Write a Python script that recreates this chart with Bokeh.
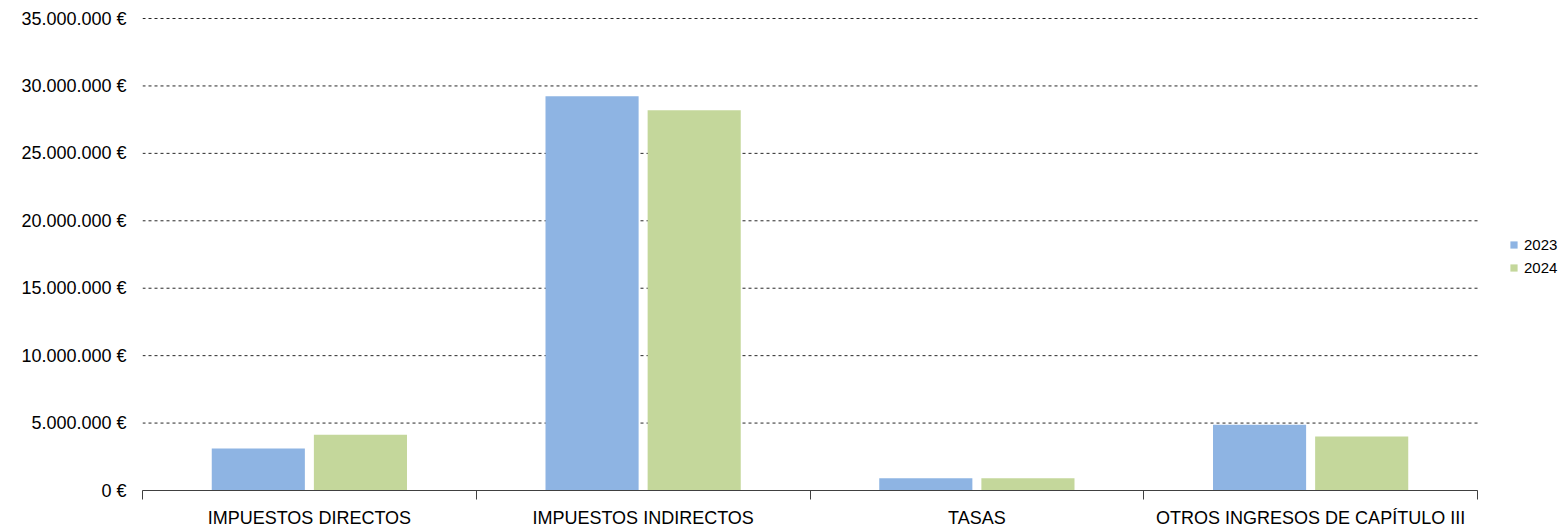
import numpy as np
from bokeh.plotting import figure
from bokeh.models import (ColumnDataSource, FixedTicker, Legend, LegendItem, Range1d)
from bokeh.transform import dodge
from bokeh.embed import file_html
from bokeh.resources import INLINE

categories = ["IMPUESTOS DIRECTOS", "IMPUESTOS INDIRECTOS", "TASAS", "OTROS INGRESOS DE CAPÍTULO III"]
years = ["2023", "2024"]
v2023 = [3110000, 29230000, 900000, 4880000]
v2024 = [4140000, 28190000, 900000, 4000000]
y_ticks = [0, 5000000, 10000000, 15000000, 20000000, 25000000, 30000000, 35000000]
y_labels = ["0 €", "5.000.000 €", "10.000.000 €", "15.000.000 €", "20.000.000 €",
            "25.000.000 €", "30.000.000 €", "35.000.000 €"]

colors = ["#8EB4E3", "#C4D79B"]
FONT = "Liberation Sans"

n = len(categories)
xpos = np.arange(n) + 0.5
src = ColumnDataSource(dict(x=xpos, v2023=v2023, v2024=v2024))
grid_src = ColumnDataSource(dict(y=y_ticks, x0=[0] * len(y_ticks), x1=[n] * len(y_ticks)))

# plot frame extends to the right edge so the legend (drawn inside it) is not clipped;
# the category area [0, n] covers 1335 of the 1420 frame pixels
p = figure(width=1562, height=530, output_backend="svg", toolbar_location=None,
           x_range=Range1d(0, n * 1420 / 1335), y_range=Range1d(0, 35075000),
           min_border_left=142, min_border_right=0, min_border_top=17, min_border_bottom=39)
p.outline_line_color = None
p.xgrid.grid_line_color = None
p.ygrid.grid_line_color = None

# dashed horizontal gridlines limited to the category area
p.segment(x0="x0", x1="x1", y0="y", y1="y", source=grid_src,
          line_color="#000000", line_alpha=0.85, line_width=1, line_dash="3 3")

r1 = p.vbar(x=dodge("x", -0.153), top="v2023", width=0.279, source=src,
            fill_color=colors[0], line_color=None)
r2 = p.vbar(x=dodge("x", 0.153), top="v2024", width=0.279, source=src,
            fill_color=colors[1], line_color=None)

# y axis
p.yaxis.ticker = FixedTicker(ticks=y_ticks, minor_ticks=[])
p.yaxis.major_label_overrides = {t: l for t, l in zip(y_ticks, y_labels)}
p.yaxis.axis_line_color = None
p.yaxis.major_tick_line_color = None
p.yaxis.minor_tick_line_color = None
p.yaxis.major_tick_out = 0
p.yaxis.major_tick_in = 0
p.yaxis.major_label_standoff = 16
p.yaxis.major_label_text_font = FONT
p.yaxis.major_label_text_font_size = "18px"
p.yaxis.major_label_text_color = "#000000"

# x axis
p.xaxis.bounds = (0, n)
p.xaxis.ticker = FixedTicker(ticks=list(xpos), minor_ticks=list(range(n + 1)))
p.xaxis.major_label_overrides = {float(x): c for x, c in zip(xpos, categories)}
p.xaxis.major_tick_line_color = None
p.xaxis.major_tick_out = 0
p.xaxis.major_tick_in = 0
p.xaxis.minor_tick_out = 9
p.xaxis.minor_tick_in = 0
p.xaxis.minor_tick_line_color = "#404040"
p.xaxis.axis_line_color = "#404040"
p.xaxis.major_label_standoff = 8
p.xaxis.major_label_text_font = FONT
p.xaxis.major_label_text_font_size = "18px"
p.xaxis.major_label_text_color = "#000000"

legend = Legend(items=[LegendItem(label=years[0], renderers=[r1]),
                       LegendItem(label=years[1], renderers=[r2])],
                location=(1367, 213), padding=0, margin=0, spacing=3,
                glyph_width=9, glyph_height=9, label_height=20, label_standoff=6,
                label_text_font=FONT, label_text_font_size="15px",
                label_text_color="#000000",
                border_line_color=None, background_fill_alpha=0)
p.add_layout(legend, "center")

open("out.html", "w").write(file_html(p, INLINE))
